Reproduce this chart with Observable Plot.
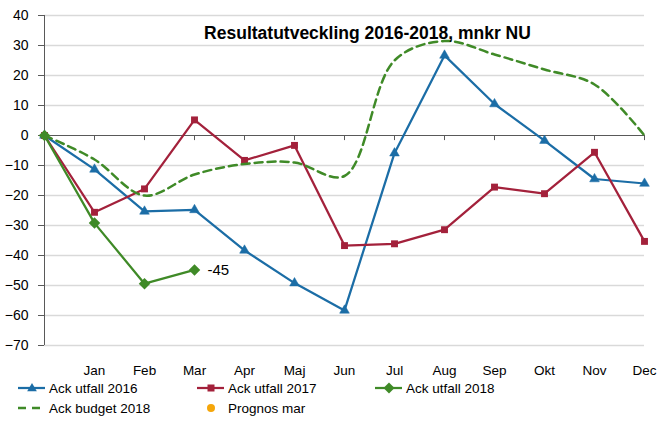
<!DOCTYPE html>
<html><head><meta charset="utf-8">
<script src="https://cdn.jsdelivr.net/npm/d3@7"></script>
<script src="https://cdn.jsdelivr.net/npm/@observablehq/plot@0.6"></script>
<style>
body{margin:0;background:#fff;font-family:"Liberation Sans",Arial,sans-serif;}
#wrap{position:relative;width:659px;height:421px;overflow:hidden}
#chart svg{display:block}
.leg{position:absolute;font-size:13.5px;color:#000;display:flex;align-items:center;white-space:nowrap;height:18px}
.leg svg{margin-right:3px}
</style></head><body><div id="wrap"><div id="chart"></div></div>
<script>
const months = ["Start", "Jan", "Feb", "Mar", "Apr", "Maj", "Jun", "Jul", "Aug", "Sep", "Okt", "Nov", "Dec"];
const utfall2016 = [0, -11.3, -25.3, -24.8, -38.3, -49.2, -58.3, -5.9, 26.7, 10.5, -1.7, -14.5, -16.0];
const utfall2017 = [0, -25.6, -17.8, 5.2, -8.3, -3.3, -36.7, -36.1, -31.4, -17.2, -19.4, -5.6, -35.3];
const utfall2018 = [0, -29.2, -49.4, -44.8];
const budget2018 = [0, -8, -20, -13, -9.5, -9, -13.5, 25, 31.5, 27, 22, 17, 0];
const prognosMar = [];
const prognosLabel = "-45";
const yTicks = [-70, -60, -50, -40, -30, -20, -10, 0, 10, 20, 30, 40];
const title = "Resultatutveckling 2016-2018, mnkr NU";

const C16 = "#1b6da6", C17 = "#a3213b", C18 = "#3f8a27", CB = "#3f8a27", CP = "#f5a60a";

const toRows = arr => arr.map((v, i) => ({m: months[i], v}));
const diamond = {draw(ctx, size){ const r = Math.sqrt(size/2); ctx.moveTo(0,-r); ctx.lineTo(r,0); ctx.lineTo(0,r); ctx.lineTo(-r,0); ctx.closePath(); }};

const plot = Plot.plot({
  width: 659, height: 379,
  marginLeft: 44, marginRight: 15, marginTop: 15, marginBottom: 34,
  style: {fontFamily: '"Liberation Sans", Arial, sans-serif', fontSize: "13.5px", color: "#000", background: "#fff"},
  x: {type: "point", domain: months, padding: 0},
  y: {domain: [-70, 40]},
  marks: [
    Plot.ruleY(yTicks.filter(d => d !== 0), {stroke: "#d9d9d9", strokeWidth: 1.5}),
    Plot.axisY({ticks: yTicks, tickSize: 6, tickPadding: 10, stroke: "#595959", label: null, fill: "#000", fontSize: 14}),
    Plot.axisX({tickSize: 0, tickPadding: 20, label: null, tickFormat: d => d === "Start" ? "" : d, fill: "#000"}),
    Plot.ruleY([0], {stroke: "#595959", strokeWidth: 1}),
    Plot.ruleX([months[0]], {y1: -70, y2: 40, stroke: "#595959", strokeWidth: 1}),
    Plot.ruleX(months.slice(1), {y1: 0, y2: -1.7, stroke: "#595959", strokeWidth: 1}),
    Plot.line(toRows(utfall2016), {x: "m", y: "v", stroke: C16, strokeWidth: 2.25}),
    Plot.dot(toRows(utfall2016), {x: "m", y: "v", symbol: "triangle", r: 3.6, fill: C16, stroke: C16, strokeWidth: 0.5}),
    Plot.line(toRows(utfall2017), {x: "m", y: "v", stroke: C17, strokeWidth: 2.25}),
    Plot.dot(toRows(utfall2017), {x: "m", y: "v", symbol: "square", r: 3.9, fill: C17}),
    Plot.line(toRows(utfall2018), {x: "m", y: "v", stroke: C18, strokeWidth: 2.25}),
    Plot.dot(toRows(utfall2018), {x: "m", y: "v", symbol: diamond, r: 4.6, fill: C18}),
    Plot.line(toRows(budget2018), {x: "m", y: "v", stroke: CB, strokeWidth: 2.5, strokeDasharray: "8,5", curve: "catmull-rom"}),
    Plot.dot(prognosMar.map(v => ({m: "Mar", v})), {x: "m", y: "v", r: 4, fill: CP}),
    Plot.text([{m: months[utfall2018.length - 1], v: utfall2018[utfall2018.length - 1]}], {x: "m", y: "v", text: () => prognosLabel, dx: 13, textAnchor: "start", fontSize: 15, fill: "#000"}),
    Plot.text([title], {frameAnchor: "top", dx: 23, dy: 18, lineAnchor: "middle", fontWeight: "bold", fontSize: 17.5, fill: "#000"})
  ]
});
document.getElementById("chart").appendChild(plot);

const wrap = document.getElementById("wrap");
function leg(left, top, swatch, label){
  const d = document.createElement("div");
  d.className = "leg";
  d.style.left = left + "px"; d.style.top = (top - 9) + "px";
  d.innerHTML = swatch + `<span>${label}</span>`;
  wrap.appendChild(d);
}
const sw = inner => `<svg width="28" height="14" viewBox="0 0 28 14">${inner}</svg>`;
leg(18, 388, sw(`<line x1="0" y1="7" x2="27" y2="7" stroke="${C16}" stroke-width="2.25"/><path d="${d3.symbol(d3.symbolTriangle, Math.PI*3.6*3.6)()}" transform="translate(14,7.5)" fill="${C16}"/>`), "Ack utfall 2016");
leg(197, 388, sw(`<line x1="0" y1="7" x2="27" y2="7" stroke="${C17}" stroke-width="2.25"/><rect x="10.5" y="3.5" width="7" height="7" fill="${C17}"/>`), "Ack utfall 2017");
leg(375, 388, sw(`<line x1="0" y1="7" x2="27" y2="7" stroke="${C18}" stroke-width="2.25"/><path d="M14,1.5L19.5,7L14,12.5L8.5,7Z" fill="${C18}"/>`), "Ack utfall 2018");
leg(18, 408, sw(`<line x1="0" y1="7" x2="25" y2="7" stroke="${CB}" stroke-width="2.5" stroke-dasharray="8,6"/>`), "Ack budget 2018");
leg(197, 408, sw(`<circle cx="14" cy="7" r="4" fill="${CP}"/>`), "Prognos mar");
</script>
</body></html>
